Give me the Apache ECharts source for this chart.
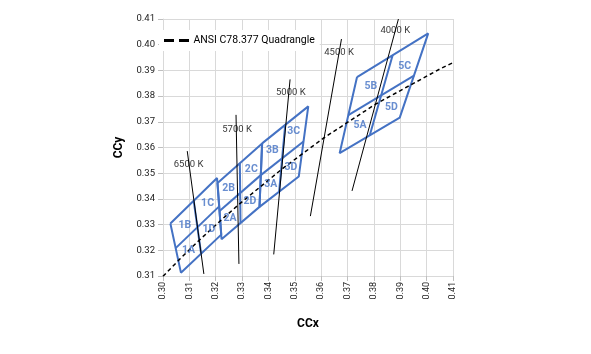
<!DOCTYPE html>
<html>
<head>
<meta charset="utf-8">
<script src="https://cdn.jsdelivr.net/npm/echarts@6/dist/echarts.min.js"></script>
<style>
html,body{margin:0;padding:0;background:#fff;}
#chart{width:591px;height:354px;}
</style>
</head>
<body>
<div id="chart"></div>
<script>
// Axis ranges / ticks
const xTicks = [0.30,0.31,0.32,0.33,0.34,0.35,0.36,0.37,0.38,0.39,0.40,0.41];
const yTicks = [0.31,0.32,0.33,0.34,0.35,0.36,0.37,0.38,0.39,0.40,0.41];

// ANSI quadrangle outlines (closed polygons), groups 1,2,3,5
const quad1 = [[0.3028,0.3304],[0.3205,0.3481],[0.3221,0.3261],[0.3068,0.3113],[0.3028,0.3304]];
const quad2 = [[0.3207,0.3462],[0.3376,0.3616],[0.3366,0.3369],[0.3222,0.3243],[0.3207,0.3462]];
const quad3 = [[0.3376,0.3616],[0.3551,0.3760],[0.3515,0.3487],[0.3366,0.3369],[0.3376,0.3616]];
const quad5 = [[0.3736,0.3874],[0.4006,0.4044],[0.3898,0.3716],[0.3670,0.3578],[0.3736,0.3874]];

// Sub-bin dividing segments
const div1a = [[0.31165,0.33925],[0.31445,0.3187]];
const div1b = [[0.3048,0.32085],[0.3213,0.3371]];
const div2a = [[0.32915,0.3539],[0.3294,0.3306]];
const div2b = [[0.32145,0.33525],[0.3371,0.34925]];
const div3a = [[0.34635,0.3688],[0.34405,0.3428]];
const div3b = [[0.3371,0.34925],[0.3533,0.36235]];
const div5a = [[0.3871,0.3959],[0.3784,0.3647]];
const div5b = [[0.3703,0.3726],[0.3952,0.3880]];

// Sub-bin labels
const binNames = ['1A','1B','1C','1D','2A','2B','2C','2D','3A','3B','3C','3D','5A','5B','5C','5D'];
const binX = [0.3097,0.3083,0.3169,0.3174,0.3254,0.3249,0.3335,0.3330,0.3409,0.3415,0.3496,0.3485,0.3747,0.3788,0.3917,0.3866];
const binY = [0.3198,0.3296,0.3383,0.3282,0.3324,0.3440,0.3513,0.3392,0.3458,0.3588,0.3664,0.3521,0.3685,0.3837,0.3917,0.3756];

// Isotemperature (CCT) lines
const cct6500 = [[0.3092,0.3586],[0.3155,0.3108]];
const cct5700 = [[0.3277,0.3727],[0.3288,0.3147]];
const cct5000 = [[0.3482,0.3865],[0.3420,0.3184]];
const cct4500 = [[0.3677,0.4022],[0.3559,0.3333]];
const cct4000 = [[0.3893,0.4100],[0.3717,0.3431]];
const cctNames = ['6500 K','5700 K','5000 K','4500 K','4000 K'];
const cctLabelX = [0.3097,0.3281,0.3485,0.3668,0.3881];
const cctLabelY = [0.3532,0.3671,0.3812,0.3969,0.4055];

// Dashed reference curve (Planckian locus)
const locusX = [0.3000,0.3064,0.3135,0.3221,0.3286,0.3451,0.3608,0.3805,0.4053,0.4100];
const locusY = [0.3099,0.3166,0.3237,0.3318,0.3377,0.3516,0.3636,0.3768,0.3907,0.3930];

const BLUE = '#4472C4';
const series = [];

function addLine(data, color, width, name, type) {
  series.push({
    type: 'line', name: name || undefined, data: data,
    showSymbol: false, symbol: 'none', silent: true, animation: false,
    lineStyle: {color: color, width: width, type: type || 'solid'},
    itemStyle: {color: color},
    z: name ? 3 : 2
  });
}

[quad1, quad2, quad3, quad5].forEach(q => addLine(q, BLUE, 2));
[div1a, div1b, div2a, div2b, div3a, div3b, div5a, div5b].forEach(d => addLine(d, BLUE, 2));
[cct6500, cct5700, cct5000, cct4500, cct4000].forEach(c => addLine(c, '#000', 1));

addLine(locusX.map((x, i) => [x, locusY[i]]), '#000', 1.5, 'ANSI C78.377 Quadrangle', [4, 3]);

series.push({
  type: 'scatter', symbolSize: 0, silent: true, animation: false,
  data: binNames.map((n, i) => ({value: [binX[i], binY[i]], name: n})),
  label: {show: true, position: 'inside', formatter: p => p.name,
          color: BLUE, fontWeight: 'bold', fontSize: 10.5, fontFamily: 'Roboto'},
  z: 5
});
series.push({
  type: 'scatter', symbolSize: 0, silent: true, animation: false,
  data: cctNames.map((n, i) => ({value: [cctLabelX[i], cctLabelY[i]], name: n})),
  label: {show: true, position: 'inside', formatter: p => p.name,
          color: '#000', fontSize: 9.5, fontFamily: 'Roboto'},
  z: 5
});

const chart = echarts.init(document.getElementById('chart'), null, {renderer: 'canvas'});
chart.setOption({
  animation: false,
  backgroundColor: '#fff',
  grid: {left: 163, right: 138, top: 19, bottom: 78, containLabel: false},
  legend: {
    show: true,
    data: [{name: 'ANSI C78.377 Quadrangle', icon: 'path://M0,0H10V3H0Z M15,0H25V3H15Z'}],
    left: 159, top: 30,
    itemWidth: 26, itemHeight: 3, itemGap: 4,
    itemStyle: {color: '#000'},
    textStyle: {fontSize: 10.5, color: '#000', fontFamily: 'Roboto', padding: [0,0,0,-1]},
    backgroundColor: '#fff'
  },
  xAxis: {
    type: 'value', min: xTicks[0], max: xTicks[xTicks.length - 1], interval: 0.01,
    name: 'CCx', nameLocation: 'middle', nameGap: 42,
    nameTextStyle: {fontSize: 12, fontWeight: 'bold', color: '#000', fontFamily: 'Roboto'},
    axisLine: {show: true, lineStyle: {color: '#d9d9d9', width: 1}},
    axisTick: {show: true, length: 5, lineStyle: {color: '#bfbfbf'}},
    axisLabel: {rotate: 90, margin: 6, fontSize: 9, color: '#222', fontFamily: 'Roboto',
                formatter: v => v.toFixed(2)},
    splitLine: {show: true, lineStyle: {color: '#d9d9d9', width: 1}}
  },
  yAxis: {
    type: 'value', min: yTicks[0], max: yTicks[yTicks.length - 1], interval: 0.01,
    name: 'CCy', nameLocation: 'middle', nameGap: 38, nameRotate: 90,
    nameTextStyle: {fontSize: 12, fontWeight: 'bold', color: '#000', fontFamily: 'Roboto'},
    axisLine: {show: true, lineStyle: {color: '#d9d9d9', width: 1}},
    axisTick: {show: true, length: 5, lineStyle: {color: '#bfbfbf'}},
    axisLabel: {margin: 8, fontSize: 9.5, color: '#222', fontFamily: 'Roboto',
                formatter: v => v.toFixed(2)},
    splitLine: {show: true, lineStyle: {color: '#d9d9d9', width: 1}}
  },
  series: series
});
</script>
</body>
</html>
